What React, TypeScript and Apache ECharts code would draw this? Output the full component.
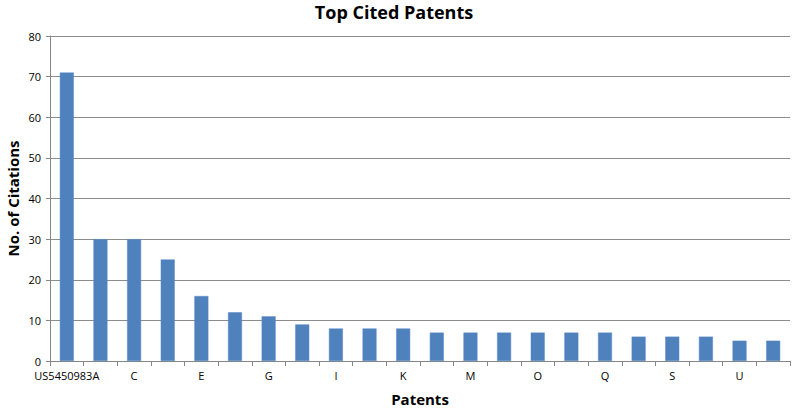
import React, { useEffect, useRef } from "react";
import * as echarts from "echarts";

const categories = [
  "US5450983A", "B", "C", "D", "E", "F", "G", "H", "I", "J", "K",
  "L", "M", "N", "O", "P", "Q", "R", "S", "T", "U", "V",
];
const citations = [71, 30, 30, 25, 16, 12, 11, 9, 8, 8, 8, 7, 7, 7, 7, 7, 7, 6, 6, 6, 5, 5];
const yTicks = { min: 0, max: 80, interval: 10 };

export default function App() {
  const ref = useRef<HTMLDivElement>(null);
  useEffect(() => {
    if (!ref.current) return;
    const chart = echarts.init(ref.current, null, { renderer: "svg" });
    const font = "'Open Sans', 'DejaVu Sans', sans-serif";
    chart.setOption({
      animation: false,
      backgroundColor: "#ffffff",
      title: {
        text: "Top Cited Patents",
        left: 394,
        top: 2,
        padding: 0,
        textAlign: "center",
        textStyle: { fontFamily: font, fontSize: 18, lineHeight: 20, fontWeight: "bold", color: "#000" },
      },
      grid: { left: 50, right: 10, top: 36, bottom: 48, containLabel: false, outerBoundsMode: "none" },
      xAxis: {
        type: "category",
        data: categories,
        name: "Patents",
        nameLocation: "middle",
        nameGap: 30,
        nameTextStyle: { fontFamily: font, fontSize: 15, fontWeight: "bold", color: "#000" },
        axisLine: { lineStyle: { color: "#868686" } },
        axisTick: { show: true, alignWithLabel: false, interval: 0, length: 5, lineStyle: { color: "#868686" } },
        axisLabel: { interval: 1, fontFamily: font, fontSize: 11, color: "#000", margin: 9 },
      },
      yAxis: {
        type: "value",
        min: yTicks.min,
        max: yTicks.max,
        interval: yTicks.interval,
        name: "No. of Citations",
        nameLocation: "middle",
        nameGap: 30,
        nameMoveOverlap: false,
        nameTextStyle: { fontFamily: font, fontSize: 15, fontWeight: "bold", color: "#000" },
        axisLine: { show: true, lineStyle: { color: "#868686" } },
        axisTick: { show: true, length: 4, lineStyle: { color: "#868686" } },
        axisLabel: { fontFamily: font, fontSize: 11, color: "#000", margin: 9 },
        splitLine: { show: true, lineStyle: { color: "#8c8c8c", width: 1 } },
      },
      series: [
        {
          type: "bar",
          data: citations,
          barWidth: 14,
          itemStyle: { color: "#4F81BD", borderColor: "#5a8bc6", borderWidth: 0.5 },
        },
      ],
    });
    return () => chart.dispose();
  }, []);
  return (
    <div
      ref={ref}
      style={{ position: "absolute", left: 0, top: 0, width: 800, height: 409 }}
    />
  );
}
